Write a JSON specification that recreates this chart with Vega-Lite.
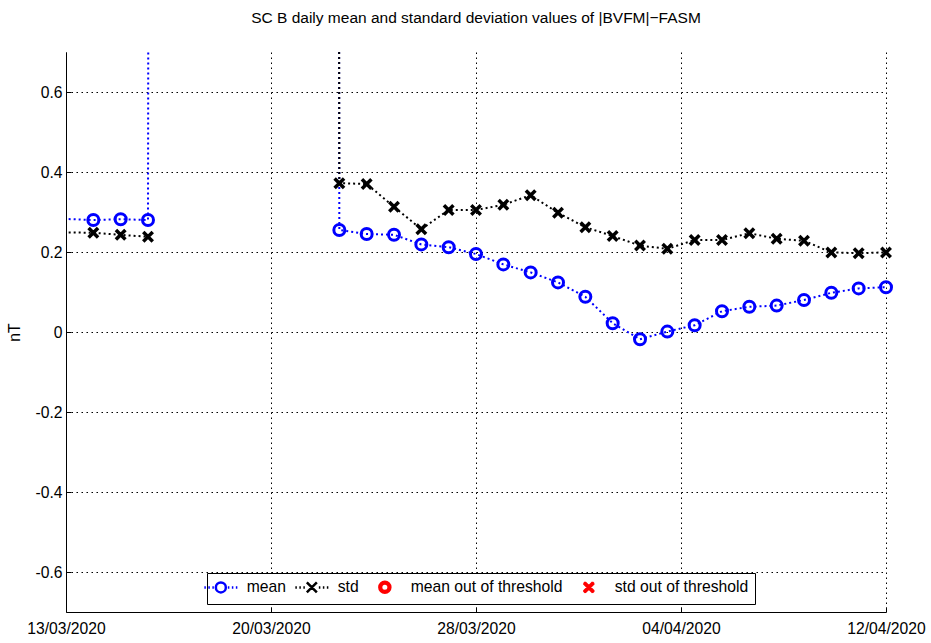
{
  "$schema": "https://vega.github.io/schema/vega-lite/v6.json",
  "width": 820,
  "height": 560,
  "autosize": {"type": "none"},
  "padding": {"left": 66, "top": 52, "right": 45, "bottom": 31},
  "title": {"text": "SC B daily mean and standard deviation values of |BVFM|−FASM", "fontSize": 15.5, "fontWeight": "normal", "font": "Liberation Sans", "offset": 26, "anchor": "middle", "color": "black"},
  "data": {"values": [
    {"date": "2020-03-12T00:00:00", "mean": 0.285, "std": 0.25, "seg": 1},
    {"date": "2020-03-14T00:00:00", "mean": 0.28, "std": 0.248, "seg": 1},
    {"date": "2020-03-15T00:00:00", "mean": 0.282, "std": 0.243, "seg": 1},
    {"date": "2020-03-16T00:00:00", "mean": 0.28, "std": 0.238, "seg": 1},
    {"date": "2020-03-17T00:00:00", "mean": 50, "std": null, "seg": 1},
    {"date": "2020-03-22T00:00:00", "mean": 50, "std": 50, "seg": 2},
    {"date": "2020-03-23T00:00:00", "mean": 0.255, "std": 0.372, "seg": 2},
    {"date": "2020-03-24T00:00:00", "mean": 0.245, "std": 0.37, "seg": 2},
    {"date": "2020-03-25T00:00:00", "mean": 0.243, "std": 0.313, "seg": 2},
    {"date": "2020-03-26T00:00:00", "mean": 0.219, "std": 0.257, "seg": 2},
    {"date": "2020-03-27T00:00:00", "mean": 0.212, "std": 0.305, "seg": 2},
    {"date": "2020-03-28T00:00:00", "mean": 0.195, "std": 0.305, "seg": 2},
    {"date": "2020-03-29T00:00:00", "mean": 0.169, "std": 0.318, "seg": 2},
    {"date": "2020-03-30T00:00:00", "mean": 0.149, "std": 0.342, "seg": 2},
    {"date": "2020-03-31T00:00:00", "mean": 0.124, "std": 0.298, "seg": 2},
    {"date": "2020-04-01T00:00:00", "mean": 0.088, "std": 0.262, "seg": 2},
    {"date": "2020-04-02T00:00:00", "mean": 0.022, "std": 0.24, "seg": 2},
    {"date": "2020-04-03T00:00:00", "mean": -0.018, "std": 0.216, "seg": 2},
    {"date": "2020-04-04T00:00:00", "mean": 0.001, "std": 0.208, "seg": 2},
    {"date": "2020-04-05T00:00:00", "mean": 0.017, "std": 0.23, "seg": 2},
    {"date": "2020-04-06T00:00:00", "mean": 0.052, "std": 0.23, "seg": 2},
    {"date": "2020-04-07T00:00:00", "mean": 0.063, "std": 0.247, "seg": 2},
    {"date": "2020-04-08T00:00:00", "mean": 0.066, "std": 0.233, "seg": 2},
    {"date": "2020-04-09T00:00:00", "mean": 0.08, "std": 0.228, "seg": 2},
    {"date": "2020-04-10T00:00:00", "mean": 0.098, "std": 0.199, "seg": 2},
    {"date": "2020-04-11T00:00:00", "mean": 0.109, "std": 0.197, "seg": 2},
    {"date": "2020-04-12T00:00:00", "mean": 0.112, "std": 0.199, "seg": 2}
  ]},
  "encoding": {
    "x": {
      "field": "date", "type": "temporal",
      "scale": {"domain": [{"year": 2020, "month": 3, "date": 13}, {"year": 2020, "month": 4, "date": 12}], "nice": false},
      "axis": {
        "title": null,
        "values": [
          {"year": 2020, "month": 3, "date": 13},
          {"year": 2020, "month": 3, "date": 20, "hours": 12},
          {"year": 2020, "month": 3, "date": 28},
          {"year": 2020, "month": 4, "date": 4, "hours": 12},
          {"year": 2020, "month": 4, "date": 12}
        ],
        "format": "%d/%m/%Y",
        "labelFlush": false,
        "labelOverlap": false,
        "labelPadding": 14,
        "grid": true
      }
    }
  },
  "layer": [
    {
      "mark": {"type": "line", "color": "#0000ff", "strokeWidth": 2, "strokeDash": [2, 3], "clip": true},
      "encoding": {
        "y": {
          "field": "mean", "type": "quantitative",
          "scale": {"domain": [-0.7, 0.7], "nice": false, "zero": false},
          "axis": {
            "title": "nT",
            "values": [-0.6, -0.4, -0.2, 0, 0.2, 0.4, 0.6],
            "labelExpr": "'' + round(datum.value * 10) / 10",
            "grid": true,
            "labelPadding": 9,
            "titlePadding": 12
          }
        },
        "detail": {"field": "seg", "type": "nominal"}
      }
    },
    {
      "transform": [
        {"filter": {"field": "date", "range": [{"year": 2020, "month": 3, "date": 13}, {"year": 2020, "month": 4, "date": 12}]}},
        {"filter": {"field": "mean", "range": [-0.7, 0.7]}}
      ],
      "mark": {"type": "point", "shape": "circle", "filled": false, "color": "#0000ff", "size": 121, "strokeWidth": 3, "opacity": 1},
      "encoding": {"y": {"field": "mean", "type": "quantitative"}}
    },
    {
      "transform": [{"filter": "datum.std != null"}],
      "mark": {"type": "line", "color": "black", "strokeWidth": 2, "strokeDash": [2, 3], "clip": true},
      "encoding": {
        "y": {"field": "std", "type": "quantitative"},
        "detail": {"field": "seg", "type": "nominal"}
      }
    },
    {
      "transform": [
        {"filter": {"field": "date", "range": [{"year": 2020, "month": 3, "date": 13}, {"year": 2020, "month": 4, "date": 12}]}},
        {"filter": {"field": "std", "range": [-0.7, 0.7]}}
      ],
      "mark": {"type": "point", "shape": "M-1,-1L1,1M-1,1L1,-1", "filled": false, "color": "black", "size": 90, "strokeWidth": 3.5, "opacity": 1},
      "encoding": {"y": {"field": "std", "type": "quantitative"}}
    },
    {
      "transform": [{"filter": "false"}, {"calculate": "'mean'", "as": "series"}],
      "mark": {"type": "point", "filled": false, "opacity": 1},
      "encoding": {
        "color": {
          "field": "series", "type": "nominal",
          "scale": {"domain": ["mean", "std", "mean out of threshold", "std out of threshold"], "range": ["#0000ff", "black", "red", "red"]},
          "legend": {"title": null}
        },
        "shape": {
          "field": "series", "type": "nominal",
          "scale": {"domain": ["mean", "std", "mean out of threshold", "std out of threshold"], "range": [
            "M-4.3,0M1,0A1,1,0,1,1,-1,0A1,1,0,1,1,1,0Z M-3.3,0L-3,0M-2.5,0L-2.2,0M-1.7,0L-1.4,0M1.4,0L1.7,0M2.2,0L2.5,0M3,0L3.3,0",
            "M-1,-1L1,1M-1,1L1,-1 M-3.3,0L-3,0M-2.5,0L-2.2,0M-1.7,0L-1.4,0M1.4,0L1.7,0M2.2,0L2.5,0M3,0L3.3,0",
            "M-3.3,0M3.3,0M1.1,0A1.1,1.1,0,1,1,-1.1,0A1.1,1.1,0,1,1,1.1,0Z M0.75,0A0.75,0.75,0,1,1,-0.75,0A0.75,0.75,0,1,1,0.75,0Z",
            "M-3.3,0M3.3,0M-1,-1L1,1M-1,1L1,-1M-0.8,-1L1,0.8M-1,-0.8L0.8,1M-1,0.8L0.8,-1M-0.8,1L1,-0.8"
          ]},
          "legend": {"title": null}
        }
      }
    }
  ],
  "config": {
    "view": {"stroke": null},
    "font": "Liberation Sans",
    "axis": {
      "labelFont": "Liberation Sans", "titleFont": "Liberation Sans",
      "labelFontSize": 15.7, "titleFontSize": 15.7, "titleFontWeight": "normal",
      "domainColor": "black", "tickColor": "black", "labelColor": "black", "titleColor": "black",
      "gridColor": "black", "gridDash": [1.5, 3.5], "gridOpacity": 1, "gridWidth": 1,
      "tickSize": -5, "domainWidth": 1
    },
    "legend": {
      "orient": "none", "legendX": 141, "legendY": 521,
      "direction": "horizontal", "columns": 4,
      "strokeColor": "black", "fillColor": "white", "padding": 6,
      "labelFont": "Liberation Sans", "labelFontSize": 15.7, "labelColor": "black",
      "labelOffset": 18, "columnPadding": 4,
      "symbolSize": 100, "symbolStrokeWidth": 2.5, "symbolOpacity": 1
    }
  }
}
